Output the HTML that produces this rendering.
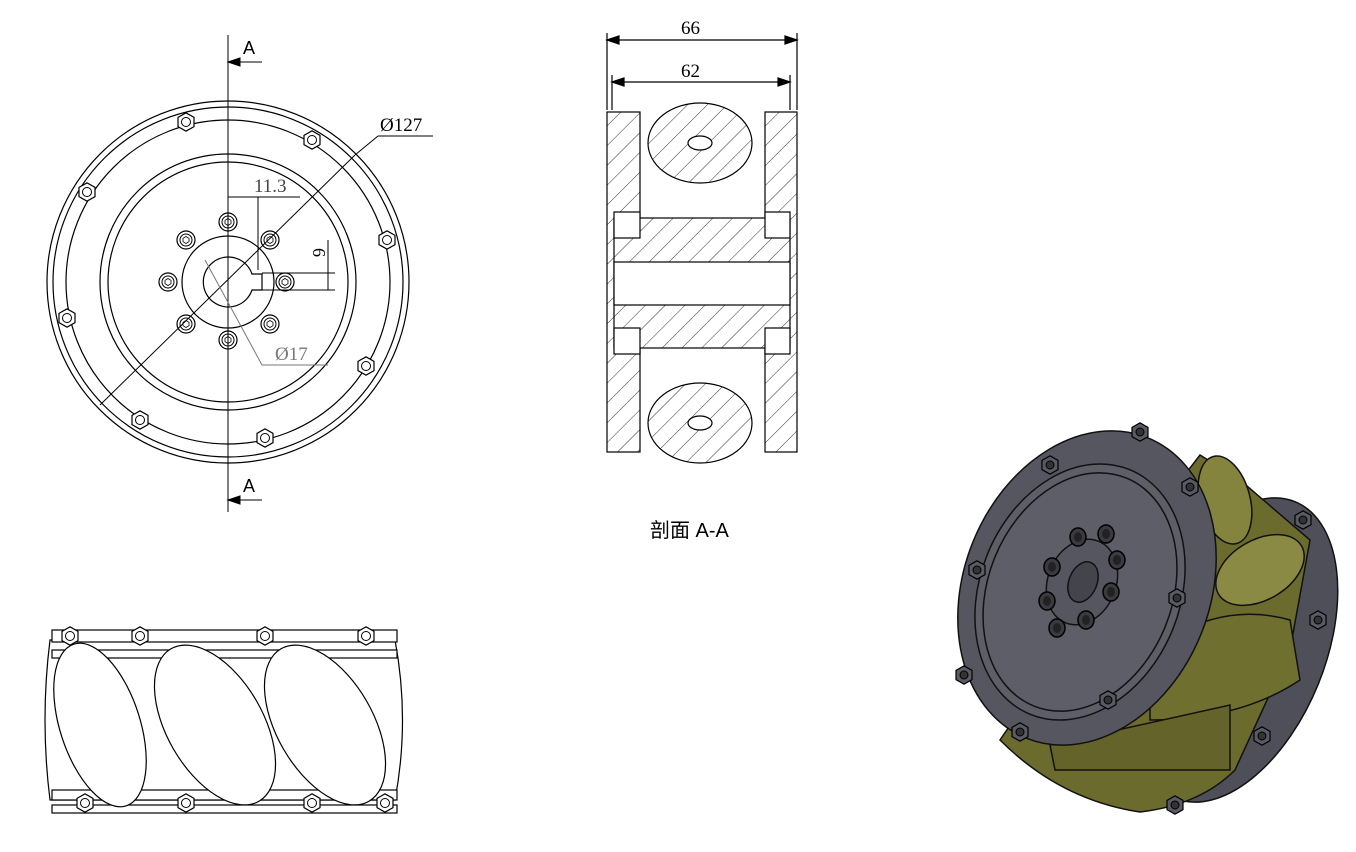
<!DOCTYPE html>
<html><head><meta charset="utf-8"><style>
html,body{margin:0;padding:0;background:#fff;}
svg{display:block;}
text{font-family:"Liberation Serif",serif;}
</style></head><body>
<svg width="1356" height="852" viewBox="0 0 1356 852" xmlns="http://www.w3.org/2000/svg">
<defs>
<pattern id="h" width="14" height="14" patternUnits="userSpaceOnUse" patternTransform="rotate(45)">
<rect width="14" height="14" fill="#fff"/><line x1="0" y1="0" x2="0" y2="14" stroke="#333" stroke-width="1"/></pattern>
<g id="nut"><polygon points="-8,-4.6 0,-9.2 8,-4.6 8,4.6 0,9.2 -8,4.6" fill="#fff" stroke="#000" stroke-width="1.2"/><circle r="4.5" fill="none" stroke="#000"/></g>
<g id="bolt"><circle r="9" fill="#fff" stroke="#000" stroke-width="1.2"/><circle r="6" fill="none" stroke="#000"/><polygon points="-3,-1.7 0,-3.5 3,-1.7 3,1.7 0,3.5 -3,1.7" fill="none" stroke="#000" stroke-width="0.8"/></g>
<g id="dn"><polygon points="-8,-4.6 0,-9.2 8,-4.6 8,4.6 0,9.2 -8,4.6" fill="#5a5a64" stroke="#000" stroke-width="1.2"/><circle r="4" fill="#333" stroke="#000"/></g>
<g id="db"><ellipse rx="8" ry="9" fill="#3a3a40" stroke="#000" stroke-width="1.5"/><ellipse rx="4" ry="5" fill="#222"/></g>
</defs>
<g fill="none" stroke="#000" stroke-width="1.2">
<circle cx="228" cy="282" r="181"/>
<circle cx="228" cy="282" r="175"/>
<circle cx="228" cy="282" r="162"/>
<circle cx="228" cy="282" r="128"/>
<circle cx="228" cy="282" r="120"/>
<circle cx="228" cy="282" r="46"/>
<path d="M252,274 A25,25 0 1 0 252,290 L262,290 L262,274 Z"/>
</g>
<g>
<use href="#bolt" x="228" y="222"/><use href="#bolt" x="270" y="240"/><use href="#bolt" x="285" y="282"/><use href="#bolt" x="270" y="324"/>
<use href="#bolt" x="228" y="340"/><use href="#bolt" x="186" y="324"/><use href="#bolt" x="168" y="282"/><use href="#bolt" x="186" y="240"/>
<use href="#nut" x="186" y="122"/><use href="#nut" x="312" y="140"/><use href="#nut" x="387" y="240"/><use href="#nut" x="366" y="366"/>
<use href="#nut" x="265" y="438"/><use href="#nut" x="140" y="420"/><use href="#nut" x="67" y="318"/><use href="#nut" x="87" y="192"/>
</g>
<g stroke="#000" stroke-width="1" fill="none">
<line x1="228" y1="35" x2="228" y2="512"/>
<line x1="228" y1="62" x2="262" y2="62"/><polygon points="228,62 240,58 240,66" fill="#000"/>
<line x1="228" y1="500" x2="262" y2="500"/><polygon points="228,500 240,496 240,504" fill="#000"/>
<line x1="100" y1="405" x2="355" y2="155"/><line x1="355" y1="155" x2="378" y2="136"/><line x1="378" y1="136" x2="433" y2="136"/>
<line x1="228" y1="197" x2="258" y2="197"/><line x1="258" y1="197" x2="258" y2="270"/><line x1="258" y1="197" x2="300" y2="197"/>
<line x1="262" y1="273" x2="335" y2="273"/><line x1="262" y1="290" x2="335" y2="290"/><line x1="328" y1="240" x2="328" y2="290"/>
<line x1="205" y1="260" x2="262" y2="365" stroke="#777"/><line x1="262" y1="365" x2="328" y2="365" stroke="#777"/>
</g>
<text x="243" y="54" font-size="18" style="font-family:'Liberation Sans',sans-serif">A</text>
<text x="243" y="492" font-size="18" style="font-family:'Liberation Sans',sans-serif">A</text>
<text x="380" y="131" font-size="19">Ø127</text>
<text x="254" y="192" font-size="19" fill="#444">11.3</text>
<text x="313" y="248" font-size="18" transform="rotate(90 313 248)">6</text>
<text x="275" y="360" font-size="19" fill="#777">Ø17</text>

<g stroke="#000" stroke-width="1.2">
<line x1="607" y1="33" x2="607" y2="110" fill="none"/><line x1="797" y1="33" x2="797" y2="110"/>
<line x1="607" y1="40" x2="797" y2="40"/><polygon points="607,40 619,36 619,44"/><polygon points="797,40 785,36 785,44"/>
<line x1="612" y1="75" x2="612" y2="110"/><line x1="790" y1="75" x2="790" y2="110"/>
<line x1="612" y1="82" x2="790" y2="82"/><polygon points="612,82 624,78 624,86"/><polygon points="790,82 778,78 778,86"/>
<rect x="607" y="112" width="33" height="340" fill="url(#h)"/>
<rect x="765" y="112" width="32" height="340" fill="url(#h)"/>
<rect x="614" y="218" width="176" height="130" fill="url(#h)"/>
<rect x="614" y="262" width="176" height="43" fill="#fff"/>
<ellipse cx="700" cy="143" rx="52" ry="40" fill="url(#h)"/>
<ellipse cx="700" cy="423" rx="52" ry="40" fill="url(#h)"/>
<ellipse cx="700" cy="143" rx="12" ry="7" fill="#fff"/>
<ellipse cx="700" cy="423" rx="12" ry="7" fill="#fff"/>
<rect x="614" y="212" width="26" height="26" fill="#fff"/><rect x="765" y="212" width="25" height="26" fill="#fff"/>
<rect x="614" y="328" width="26" height="26" fill="#fff"/><rect x="765" y="328" width="25" height="26" fill="#fff"/>
</g>
<text x="650" y="537" font-size="20" style="font-family:'Liberation Sans','Noto Sans CJK SC',sans-serif">剖面 A-A</text>
<text x="681" y="34" font-size="19">66</text>
<text x="681" y="77" font-size="19">62</text>

<g stroke="#000" stroke-width="1.2" fill="#fff">
<path d="M50,640 Q40,720 50,800 L395,800 Q410,720 395,640 Z"/>
<rect x="52" y="630" width="345" height="12"/><rect x="52" y="650" width="345" height="8"/>
<rect x="52" y="790" width="345" height="10"/><rect x="52" y="805" width="345" height="8"/>
<ellipse cx="100" cy="725" rx="40" ry="85" transform="rotate(-18 100 725)"/>
<ellipse cx="215" cy="725" rx="48" ry="88" transform="rotate(-30 215 725)"/>
<ellipse cx="325" cy="725" rx="48" ry="88" transform="rotate(-30 325 725)"/>
</g>
<g><use href="#nut" x="140" y="636"/><use href="#nut" x="265" y="636"/><use href="#nut" x="366" y="636"/><use href="#nut" x="70" y="636"/>
<use href="#nut" x="85" y="803"/><use href="#nut" x="186" y="803"/><use href="#nut" x="312" y="803"/><use href="#nut" x="385" y="803"/></g>

<g stroke="#111" stroke-width="1.5">
<ellipse cx="1235" cy="650" rx="90" ry="160" fill="#4f4f59" transform="rotate(22 1235 650)"/>
<path d="M1000,740 Q1060,800 1140,812 Q1200,805 1235,770 L1290,650 L1310,540 L1240,480 L1200,455 L1150,520 Z" fill="#6b6b2e"/>
<ellipse cx="1225" cy="500" rx="25" ry="45" fill="#84843f" transform="rotate(-15 1225 500)"/>
<ellipse cx="1260" cy="570" rx="48" ry="30" fill="#8a8a45" transform="rotate(-30 1260 570)"/>
<path d="M1150,650 Q1220,600 1290,620 L1300,680 Q1240,720 1150,720 Z" fill="#6f6f30"/>
<path d="M1050,745 L1230,705 L1230,770 L1055,770 Z" fill="#63632a"/>
<ellipse cx="1087" cy="588" rx="123" ry="162" fill="#565660" transform="rotate(22 1087 588)"/>
<ellipse cx="1080" cy="592" rx="100" ry="132" fill="#5e5e68" transform="rotate(22 1080 592)"/>
<ellipse cx="1080" cy="592" rx="92" ry="123" fill="#5e5e68" transform="rotate(22 1080 592)"/>
<ellipse cx="1082" cy="582" rx="34" ry="44" fill="#565660" transform="rotate(22 1082 582)"/>
<ellipse cx="1083" cy="582" rx="14" ry="21" fill="#44444c" transform="rotate(22 1083 582)"/>
</g>
<g>
<use href="#db" x="1078" y="537"/><use href="#db" x="1106" y="534"/><use href="#db" x="1117" y="560"/><use href="#db" x="1111" y="592"/>
<use href="#db" x="1086" y="620"/><use href="#db" x="1057" y="628"/><use href="#db" x="1047" y="601"/><use href="#db" x="1052" y="567"/>
<use href="#dn" x="1140" y="432"/><use href="#dn" x="1190" y="487"/><use href="#dn" x="1177" y="598"/><use href="#dn" x="1108" y="700"/>
<use href="#dn" x="1020" y="732"/><use href="#dn" x="964" y="675"/><use href="#dn" x="977" y="570"/><use href="#dn" x="1050" y="465"/>
<use href="#dn" x="1318" y="620"/><use href="#dn" x="1262" y="736"/><use href="#dn" x="1175" y="805"/><use href="#dn" x="1303" y="520"/>
</g>
</svg>
</body></html>
